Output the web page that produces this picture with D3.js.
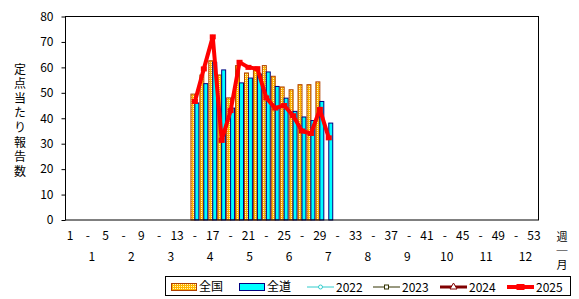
<!DOCTYPE html>
<html>
<head>
<meta charset="utf-8">
<script src="https://cdn.jsdelivr.net/npm/d3@7"></script>
<style>
  body { margin: 0; background: #fff; }
  svg text { font-family: "Noto Sans CJK JP", "DejaVu Sans", sans-serif; font-size: 12px; fill: #000; }
</style>
</head>
<body>
<svg id="chart" width="579" height="299"></svg>
<script>
// weeks that have data
const weeks = [15, 16, 17, 18, 19, 20, 21, 22, 23, 24, 25, 26, 27, 28, 29, 30];
// 全国 (nationwide) per week, null = not reported yet
const zenkoku = [49.5, 57, 62.6, 57, 48, 60.7, 57.8, 59, 60.7, 56.5, 52.3, 51.2, 53.2, 53.2, 54.3, null];
// 全道 (Hokkaido)
const zendo = [46, 53.6, 62, 59, 44, 53.9, 55.8, 57.4, 58.2, 52.5, 47.9, 42.7, 40.5, 39.1, 46.6, 38.1];
// past seasons (nothing visible in this range)
const y2022 = [];
const y2023 = [];
const y2024 = [];
const y2025 = [46.6, 59.4, 72, 31.3, 43, 62, 60, 59.5, 48, 44, 45, 41, 35, 34, 43.5, 32.3];

const yTicks = [0, 10, 20, 30, 40, 50, 60, 70, 80];
const weekLabels = ["1", "-", "5", "-", "9", "-", "13", "-", "17", "-", "21", "-", "25", "-", "29", "-", "33", "-", "37", "-", "41", "-", "45", "-", "49", "-", "53"];
const monthLabels = ["1", "2", "3", "4", "5", "6", "7", "8", "9", "10", "11", "12"];
const yTitle = "定点当たり報告数";
const xUnit = "週｜月";

const svg = d3.select("#chart");
svg.append("rect").attr("width", 579).attr("height", 299).attr("fill", "#fff");

// dotted orange fill for 全国
const defs = svg.append("defs");
const pat = defs.append("pattern")
    .attr("id", "dots").attr("patternUnits", "userSpaceOnUse")
    .attr("width", 2).attr("height", 2);
pat.append("rect").attr("width", 2).attr("height", 2).attr("fill", "#ffb400");
pat.append("rect").attr("x", 1).attr("width", 1).attr("height", 1).attr("fill", "#fff8c0");

const x = d3.scaleLinear().domain([0, 53]).range([65.5, 538.5]);
const y = d3.scaleLinear().domain([0, 80]).range([220, 16.5]);

// bars
const g = svg.append("g");
weeks.forEach((w, i) => {
    if (zenkoku[i] != null) {
        g.append("rect")
            .attr("x", x(w - 1) + 0.5).attr("y", y(zenkoku[i]))
            .attr("width", x(w - 0.5) - x(w - 1) - 0.5).attr("height", y(0) - y(zenkoku[i]))
            .attr("fill", "url(#dots)").attr("stroke", "#b04000").attr("stroke-width", 1);
    }
    if (zendo[i] != null) {
        g.append("rect")
            .attr("x", x(w - 0.5)).attr("y", y(zendo[i]))
            .attr("width", x(w) - x(w - 0.5) - 0.5).attr("height", y(0) - y(zendo[i]))
            .attr("fill", "#00ffff").attr("stroke", "#000080").attr("stroke-width", 1);
    }
});

// frame
svg.append("rect")
    .attr("x", x(0)).attr("y", y(80))
    .attr("width", x(53) - x(0)).attr("height", y(0) - y(80))
    .attr("fill", "none").attr("stroke", "#000").attr("stroke-width", 1);

// y axis ticks + labels
const yAxis = d3.axisLeft(y).tickValues(yTicks).tickSize(4).tickPadding(8);
const ya = svg.append("g").attr("transform", `translate(${x(0)},0)`).call(yAxis);
ya.select(".domain").remove();
ya.selectAll("text").style("font-size", "12px").style("font-family", '"Noto Sans CJK JP", sans-serif');

// y title, vertical
svg.append("text")
    .attr("x", 20).attr("y", 63)
    .style("writing-mode", "vertical-rl")
    .style("letter-spacing", "2.6px")
    .text(yTitle);

// 2025 line
const pts = weeks.map((w, i) => [w, y2025[i]]).filter(d => d[1] != null);
const line = d3.line().x(d => x(d[0] - 0.5)).y(d => y(d[1]));
svg.append("path").datum(pts).attr("d", line)
    .attr("fill", "none").attr("stroke", "#ff0000").attr("stroke-width", 4).attr("stroke-linejoin", "round");
svg.selectAll(".m25").data(pts).enter().append("rect")
    .attr("x", d => x(d[0] - 0.5) - 3).attr("y", d => y(d[1]) - 2.5)
    .attr("width", 6).attr("height", 5).attr("fill", "#ff0000");

// week labels
weekLabels.forEach((t, i) => {
    svg.append("text").attr("x", x(i * 2 + 0.5)).attr("y", 240)
        .attr("text-anchor", "middle").text(t);
});
// month labels
monthLabels.forEach((t, i) => {
    svg.append("text").attr("x", x((i + 0.67) * 53 / 12)).attr("y", 261)
        .attr("text-anchor", "middle").text(t);
});
// 週 | 月 unit label, stacked vertically
svg.append("text").attr("x", 562).attr("y", 231)
    .style("writing-mode", "vertical-rl")
    .style("font-size", "11px")
    .style("letter-spacing", "3px")
    .text(xUnit);

// legend
const lg = svg.append("g");
lg.append("rect").attr("x", 165.5).attr("y", 276.5).attr("width", 405).attr("height", 19)
    .attr("fill", "#fff").attr("stroke", "#000");
lg.append("rect").attr("x", 171.5).attr("y", 283.5).attr("width", 25).attr("height", 7)
    .attr("fill", "url(#dots)").attr("stroke", "#b04000");
lg.append("text").attr("x", 199).attr("y", 291).text("全国");
lg.append("rect").attr("x", 239.5).attr("y", 283.5).attr("width", 25).attr("height", 7)
    .attr("fill", "#00ffff").attr("stroke", "#000080");
lg.append("text").attr("x", 267).attr("y", 291).text("全道");

const lineItems = [
    { name: "2022", color: "#33cccc", w: 1, x0: 307, mark: "circle" },
    { name: "2023", color: "#333300", w: 1, x0: 373, mark: "square" },
    { name: "2024", color: "#800000", w: 3, x0: 440, mark: "triangle" },
    { name: "2025", color: "#ff0000", w: 4, x0: 507, mark: "rect" }
];
lineItems.forEach(it => {
    const cy = 287;
    lg.append("line").attr("x1", it.x0).attr("x2", it.x0 + 27).attr("y1", cy).attr("y2", cy)
        .attr("stroke", it.color).attr("stroke-width", it.w);
    const cx = it.x0 + 13.5;
    if (it.mark === "circle") {
        lg.append("circle").attr("cx", cx).attr("cy", cy).attr("r", 2).attr("fill", "#fff").attr("stroke", it.color);
    } else if (it.mark === "square") {
        lg.append("rect").attr("x", cx - 2).attr("y", cy - 2).attr("width", 4).attr("height", 4).attr("fill", "#fff").attr("stroke", it.color);
    } else if (it.mark === "triangle") {
        lg.append("path").attr("d", `M${cx},${cy - 4}L${cx + 3.5},${cy + 2}L${cx - 3.5},${cy + 2}Z`).attr("fill", "#fff").attr("stroke", it.color);
    } else {
        lg.append("rect").attr("x", cx - 4).attr("y", cy - 3).attr("width", 8).attr("height", 6).attr("fill", it.color);
    }
    lg.append("text").attr("x", it.x0 + 29).attr("y", 292).text(it.name);
});
</script>
</body>
</html>
